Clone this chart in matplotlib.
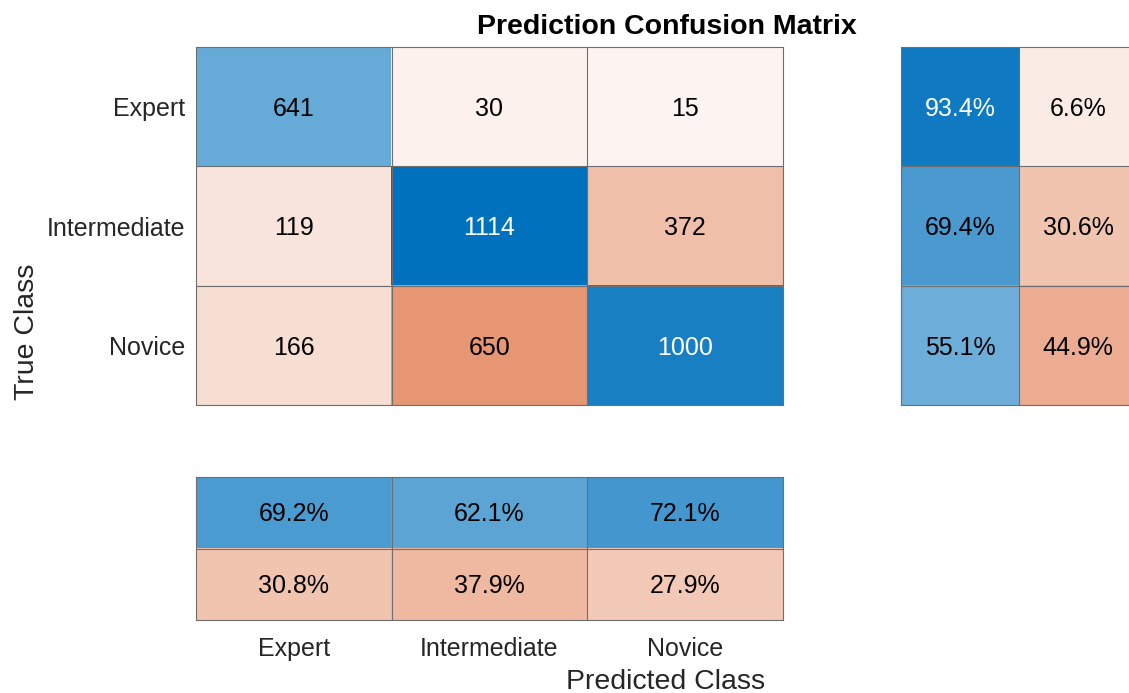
import numpy as np
import matplotlib
matplotlib.use("Agg")
import matplotlib.pyplot as plt

plt.rcParams['font.family'] = ['Liberation Sans', 'DejaVu Sans']

classes = ['Expert', 'Intermediate', 'Novice']
counts = np.array([[641, 30, 15],
                   [119, 1114, 372],
                   [166, 650, 1000]])
# row summary: correct / incorrect share per true class (%)
row_pct = np.array([[93.4, 6.6],
                    [69.4, 30.6],
                    [55.1, 44.9]])
# column summary: correct / incorrect share per predicted class (%)
col_pct = np.array([[69.2, 62.1, 72.1],
                    [30.8, 37.9, 27.9]])

title = 'Prediction Confusion Matrix'
xlabel = 'Predicted Class'
ylabel = 'True Class'

DIAG = np.array([0.0, 0.447, 0.741])
OFFD = np.array([0.850, 0.325, 0.098])
GRID = '#6e6e6e'
TXT = 18
TICK_COLOR = '#262626'


def shade(base, frac):
    # small floor so that near-zero cells still carry a faint tint
    f = 0.05 + 0.95 * frac
    return 1.0 - f * (1.0 - base)


def draw_grid(ax, fracs, is_diag, labels):
    nr, nc = fracs.shape
    img = np.zeros((nr, nc, 3))
    for i in range(nr):
        for j in range(nc):
            base = DIAG if is_diag[i][j] else OFFD
            img[i, j] = shade(base, fracs[i, j])
    ax.imshow(img, extent=(-0.5, nc - 0.5, nr - 0.5, -0.5), aspect='auto',
              interpolation='nearest')
    for i in range(nr):
        for j in range(nc):
            col = 'white' if fracs[i, j] > 0.8 else 'black'
            ax.text(j, i + 0.02 * nr / 3 * (3 / nr), labels[i][j],
                    ha='center', va='center', fontsize=TXT, color=col)
    for k in range(1, nc):
        ax.axvline(k - 0.5, color=GRID, lw=0.8)
    for k in range(1, nr):
        ax.axhline(k - 0.5, color=GRID, lw=0.8)
    ax.set_xlim(-0.5, nc - 0.5)
    ax.set_ylim(nr - 0.5, -0.5)
    for s in ax.spines.values():
        s.set_color(GRID)
        s.set_linewidth(0.8)
    ax.tick_params(length=0, labelsize=TXT, colors=TICK_COLOR)
    ax.set_xticks([])
    ax.set_yticks([])


fig = plt.figure(figsize=(11.29, 6.93), dpi=100)
W, H = 1129, 693


def px_axes(x0, y0, x1, y1):
    return fig.add_axes([x0 / W, 1 - y1 / H, (x1 - x0) / W, (y1 - y0) / H])


# main matrix
ax_main = px_axes(196, 47, 783, 405)
fr_main = counts / counts.max()
diag_mask = [[i == j for j in range(3)] for i in range(3)]
draw_grid(ax_main, fr_main, diag_mask, [[str(v) for v in r] for r in counts])
ax_main.set_yticks(range(3))
ax_main.set_yticklabels(classes)
ax_main.tick_params(axis='y', pad=8)
for lbl in ax_main.get_yticklabels():
    lbl.set_y(lbl.get_position()[1])

# row summary (extends past the right edge)
ax_row = px_axes(901, 47, 1137, 405)
draw_grid(ax_row, row_pct / 100.0, [[True, False]] * 3,
          [[f'{v:.1f}%' for v in r] for r in row_pct])

# column summary
ax_col = px_axes(196, 477, 783, 620)
draw_grid(ax_col, col_pct / 100.0, [[True] * 3, [False] * 3],
          [[f'{v:.1f}%' for v in r] for r in col_pct])
ax_col.set_xticks(range(3))
ax_col.set_xticklabels(classes)
ax_col.tick_params(axis='x', pad=12)

fig.text(667 / W, 1 - 27 / H, title, ha='center', va='center',
         fontsize=20.5, fontweight='bold', color='black')
fig.text(666 / W, 1 - 682 / H, xlabel, ha='center', va='center',
         fontsize=20.5, color=TICK_COLOR)
fig.text(27 / W, 1 - 332 / H, ylabel, ha='center', va='center',
         fontsize=20.5, color=TICK_COLOR, rotation=90)

fig.savefig('out.png', dpi=100)
